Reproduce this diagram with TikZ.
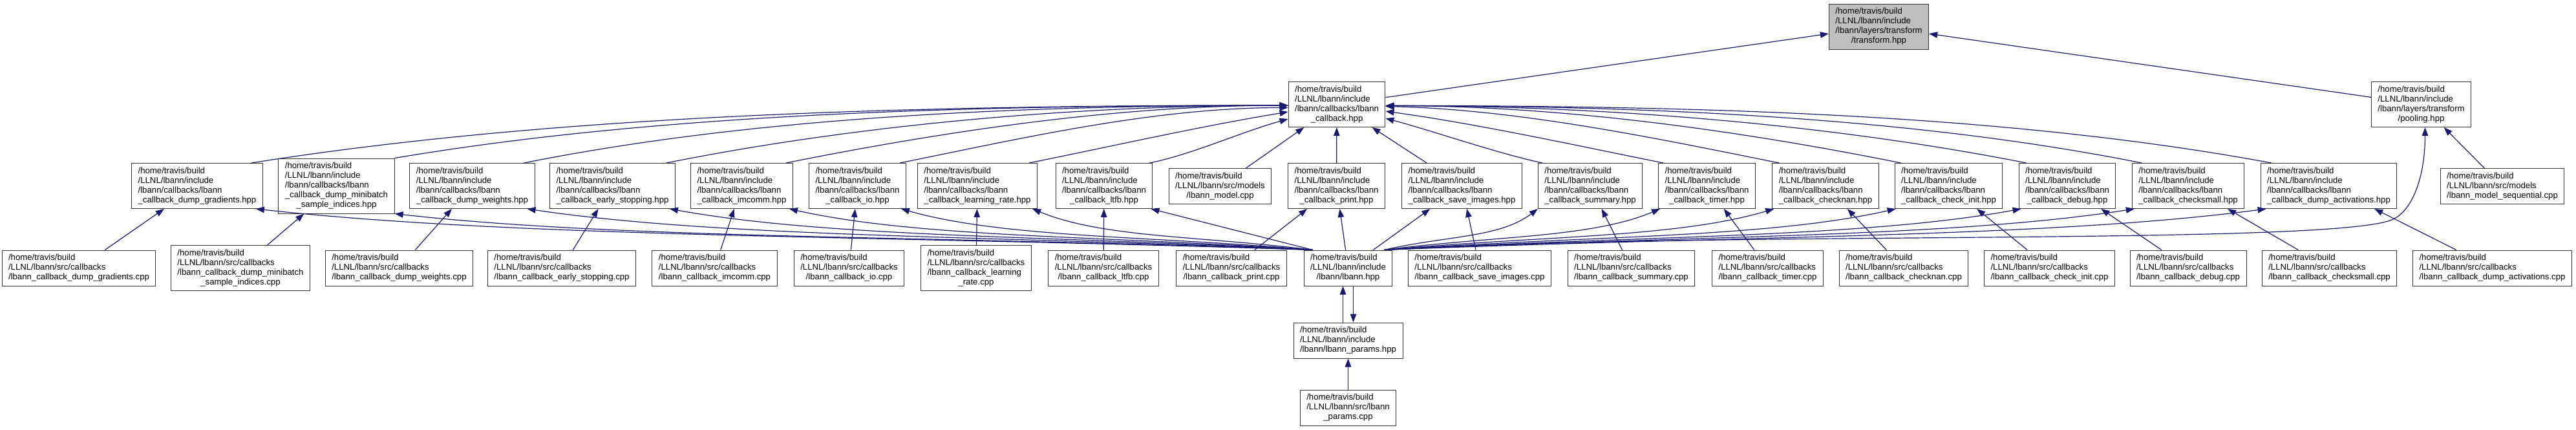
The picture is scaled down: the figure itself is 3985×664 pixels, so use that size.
\documentclass[tikz,border=0pt]{standalone}
\usepackage{fontspec}
\setmainfont{Liberation Sans}
\usetikzlibrary{arrows.meta}
\definecolor{edgeblue}{HTML}{191970}
\newcommand{\flbl}[2]{\begin{tabular}{@{}l@{}}#1\\\multicolumn{1}{@{}c@{}}{#2}\end{tabular}}
\newcommand{\cbhpp}[1]{\flbl{/home/travis/build\\/LLNL/lbann/include\\/lbann/callbacks/lbann}{\_callback\_#1.hpp}}
\newcommand{\cbcpp}[1]{\flbl{/home/travis/build\\/LLNL/lbann/src/callbacks}{/lbann\_callback\_#1.cpp}}

\begin{document}
\begin{tikzpicture}[
  x=1pt, y=1pt,
  box/.style={rectangle, draw=black!80, line width=1pt, fill=white,
    font=\fontsize{13.2}{15}\selectfont, inner xsep=10pt, inner ysep=5pt},
  cur/.style={box, fill=black!25},
  arr/.style={-{Triangle[length=13pt,width=9.5pt]}, draw=edgeblue, line width=1.2pt}
]
  \useasboundingbox (0,0) rectangle (3985,-664);

  \node[cur] (trf) at (2906.5,-41)
    {\flbl{/home/travis/build\\/LLNL/lbann/include\\/lbann/layers/transform}{/transform.hpp}};
  \node[box] (cb) at (2068,-161.5)
    {\flbl{/home/travis/build\\/LLNL/lbann/include\\/lbann/callbacks/lbann}{\_callback.hpp}};
  \node[box] (pool) at (3745.5,-161.5)
    {\flbl{/home/travis/build\\/LLNL/lbann/include\\/lbann/layers/transform}{/pooling.hpp}};

  \node[box] (dgh) at (305,-287.5) {\cbhpp{dump\_gradients}};
  \node[box] (mbh) at (520.5,-287.5)
    {\flbl{/home/travis/build\\/LLNL/lbann/include\\/lbann/callbacks/lbann\\\_callback\_dump\_minibatch}{\_sample\_indices.hpp}};
  \node[box] (dwh) at (730.5,-287.5) {\cbhpp{dump\_weights}};
  \node[box] (esh) at (947.5,-287.5) {\cbhpp{early\_stopping}};
  \node[box] (imh) at (1147.5,-287.5) {\cbhpp{imcomm}};
  \node[box] (ioh) at (1326.5,-287.5) {\cbhpp{io}};
  \node[box] (lrh) at (1512,-287.5) {\cbhpp{learning\_rate}};
  \node[box] (lth) at (1708,-287.5) {\cbhpp{ltfb}};
  \node[box] (mdl) at (1887.5,-288)
    {\flbl{/home/travis/build\\/LLNL/lbann/src/models}{/lbann\_model.cpp}};
  \node[box] (prh) at (2067.5,-287.5) {\cbhpp{print}};
  \node[box] (svh) at (2261.5,-287.5) {\cbhpp{save\_images}};
  \node[box] (smh) at (2460,-287.5) {\cbhpp{summary}};
  \node[box] (tmh) at (2640.5,-287.5) {\cbhpp{timer}};
  \node[box] (cnh) at (2824,-287.5) {\cbhpp{checknan}};
  \node[box] (cih) at (3014.5,-287.5) {\cbhpp{check\_init}};
  \node[box] (dbh) at (3198,-287.5) {\cbhpp{debug}};
  \node[box] (csh) at (3385,-287.5) {\cbhpp{checksmall}};
  \node[box] (dah) at (3602.5,-287.5) {\cbhpp{dump\_activations}};
  \node[box] (msq) at (3871,-288)
    {\flbl{/home/travis/build\\/LLNL/lbann/src/models}{/lbann\_model\_sequential.cpp}};

  \node[box] (dgc) at (122,-414.5) {\cbcpp{dump\_gradients}};
  \node[box] (mbc) at (372,-414.5)
    {\flbl{/home/travis/build\\/LLNL/lbann/src/callbacks\\/lbann\_callback\_dump\_minibatch}{\_sample\_indices.cpp}};
  \node[box] (dwc) at (617.5,-414.5) {\cbcpp{dump\_weights}};
  \node[box] (esc) at (869,-414.5) {\cbcpp{early\_stopping}};
  \node[box] (imc) at (1105.5,-414.5) {\cbcpp{imcomm}};
  \node[box] (ioc) at (1313.5,-414.5) {\cbcpp{io}};
  \node[box] (lrc) at (1510,-414.5)
    {\flbl{/home/travis/build\\/LLNL/lbann/src/callbacks\\/lbann\_callback\_learning}{\_rate.cpp}};
  \node[box] (ltc) at (1707,-414.5) {\cbcpp{ltfb}};
  \node[box] (prc) at (1905,-414.5) {\cbcpp{print}};
  \node[box] (lb) at (2085.5,-414.5)
    {\flbl{/home/travis/build\\/LLNL/lbann/include}{/lbann/lbann.hpp}};
  \node[box] (svc) at (2289,-414.5) {\cbcpp{save\_images}};
  \node[box] (smc) at (2523.5,-414.5) {\cbcpp{summary}};
  \node[box] (tmc) at (2734.5,-414.5) {\cbcpp{timer}};
  \node[box] (cnc) at (2945,-414.5) {\cbcpp{checknan}};
  \node[box] (cic) at (3170.5,-414.5) {\cbcpp{check\_init}};
  \node[box] (dbc) at (3385,-414.5) {\cbcpp{debug}};
  \node[box] (csc) at (3603.5,-414.5) {\cbcpp{checksmall}};
  \node[box] (dac) at (3855.5,-414.5) {\cbcpp{dump\_activations}};

  \node[box] (pah) at (2085.5,-526.5)
    {\flbl{/home/travis/build\\/LLNL/lbann/include}{/lbann/lbann\_params.hpp}};
  \node[box] (pac) at (2085.5,-630.5)
    {\flbl{/home/travis/build\\/LLNL/lbann/src/lbann}{\_params.cpp}};
  \coordinate (pbend) at (3700,-340);

  \draw[arr] (cb) -- (trf);
  \draw[arr] (pool) -- (trf);
  \draw[arr] (msq) -- (pool);

  \draw[arr] ([xshift=-18pt]dgh.north east) .. controls +(480,76) and +(-560,0) .. ([yshift=-1.5pt]cb.west);
  \draw[arr] (mbh.north east) .. controls +(415,70) and +(-485,0) .. ([yshift=-1.5pt]cb.west);
  \draw[arr] ([xshift=-17pt]dwh.north east) .. controls +(355,71) and +(-415,0) .. ([yshift=-1.5pt]cb.west);
  \draw[arr] ([xshift=-14pt]esh.north east) .. controls +(290,58) and +(-335,0) .. ([yshift=-1.5pt]cb.west);
  \draw[arr] ([xshift=-11pt]imh.north east) .. controls +(235,47) and +(-270,0) .. ([yshift=-1.5pt]cb.west);
  \draw[arr] ([xshift=-10pt]ioh.north east) .. controls +(180,36) and +(-210,0) .. ([yshift=-5pt]cb.west);
  \draw[arr] ([xshift=-13pt]lrh.north east) .. controls +(120,24) and +(-140,-23) .. ([yshift=-11.5pt]cb.west);
  \draw[arr] ([xshift=-5pt]lth.north east) .. controls +(65,13) and +(-75,-21) .. ([yshift=-22.5pt]cb.west);
  \draw[arr] (mdl) -- (cb);
  \draw[arr] (prh) -- (cb);
  \draw[arr] (svh) -- (cb);
  \draw[arr] ([xshift=7pt]smh.north west) .. controls +(-70,15) and +(75,-20) .. ([yshift=-21.5pt]cb.east);
  \draw[arr] ([xshift=8pt]tmh.north west) .. controls +(-130,26) and +(145,-20) .. ([yshift=-10.5pt]cb.east);
  \draw[arr] ([xshift=11pt]cnh.north west) .. controls +(-180,36) and +(210,-5) .. ([yshift=-3pt]cb.east);
  \draw[arr] ([xshift=10pt]cih.north west) .. controls +(-240,48) and +(280,0) .. ([yshift=-2pt]cb.east);
  \draw[arr] ([xshift=12pt]dbh.north west) .. controls +(-300,59) and +(345,0) .. ([yshift=-2pt]cb.east);
  \draw[arr] ([xshift=15pt]csh.north west) .. controls +(-350,70) and +(410,0) .. ([yshift=-2pt]cb.east);
  \draw[arr] ([xshift=17pt]dah.north west) .. controls +(-410,76) and +(480,0) .. ([yshift=-2pt]cb.east);

  \draw[arr] (dgc) -- (dgh);
  \draw[arr] (mbc) -- (mbh);
  \draw[arr] (dwc) -- (dwh);
  \draw[arr] (esc) -- (esh);
  \draw[arr] (imc) -- (imh);
  \draw[arr] (ioc) -- (ioh);
  \draw[arr] (lrc) -- (lrh);
  \draw[arr] (ltc) -- (lth);
  \draw[arr] (prc) -- (prh);
  \draw[arr] (svc) -- (svh);
  \draw[arr] (smc) -- (smh);
  \draw[arr] (tmc) -- (tmh);
  \draw[arr] (cnc) -- (cnh);
  \draw[arr] (cic) -- (cih);
  \draw[arr] (dbc) -- (dbh);
  \draw[arr] (csc) -- (csh);
  \draw[arr] (dac) -- (dah);

  \draw[arr] ([xshift=14pt]lb.north west) .. controls +(-654,22) and +(409,-45) .. ([xshift=-11pt]dgh.south east);
  \draw[arr] ([xshift=14pt]lb.north west) .. controls +(-568,22) and +(355,-40) .. (mbh.south east);
  \draw[arr] ([xshift=14pt]lb.north west) .. controls +(-486,22) and +(304,-45) .. ([xshift=-12pt]dwh.south east);
  \draw[arr] ([xshift=14pt]lb.north west) .. controls +(-398,22) and +(249,-45) .. ([xshift=-9pt]esh.south east);
  \draw[arr] ([xshift=14pt]lb.north west) .. controls +(-324,22) and +(202,-45) .. ([xshift=-6pt]imh.south east);
  \draw[arr] ([xshift=14pt]lb.north west) .. controls +(-255,22) and +(160,-45) .. ([xshift=-8pt]ioh.south east);
  \draw[arr] ([xshift=14pt]lb.north west) .. controls +(-176,22) and +(110,-45) .. ([xshift=-8pt]lrh.south east);
  \draw[arr] ([xshift=14pt]lb.north west) -- ([xshift=-3pt]lth.south east);
  \draw[arr] (lb) -- (prh);
  \draw[arr] (lb) -- (svh);
  \draw[arr] ([xshift=-13pt]lb.north east) .. controls +(95,22) and +(-59,-45) .. (smh.south west);
  \draw[arr] ([xshift=-13pt]lb.north east) .. controls +(171,22) and +(-107,-45) .. ([xshift=3pt]tmh.south west);
  \draw[arr] ([xshift=-13pt]lb.north east) .. controls +(241,22) and +(-151,-45) .. ([xshift=3pt]cnh.south west);
  \draw[arr] ([xshift=-13pt]lb.north east) .. controls +(317,22) and +(-198,-45) .. ([xshift=2pt]cih.south west);
  \draw[arr] ([xshift=-13pt]lb.north east) .. controls +(394,22) and +(-247,-45) .. ([xshift=4pt]dbh.south west);
  \draw[arr] ([xshift=-13pt]lb.north east) .. controls +(464,22) and +(-290,-45) .. ([xshift=4pt]csh.south west);
  \draw[arr] ([xshift=-13pt]lb.north east) .. controls +(546,22) and +(-341,-45) .. ([xshift=9pt]dah.south west);
  \draw[arr] ([xshift=-13pt]lb.north east) .. controls +(500,30) and +(-100,-40) .. (pbend)
    .. controls +(30,12) and +(0,-80) .. ([xshift=6pt]pool.south);

  \draw[arr] ([xshift=-8pt]pah.north) -- ([xshift=-8pt]lb.south);
  \draw[arr] ([xshift=8pt]lb.south) -- ([xshift=8pt]pah.north);
  \draw[arr] (pac) -- (pah);
\end{tikzpicture}
\end{document}
